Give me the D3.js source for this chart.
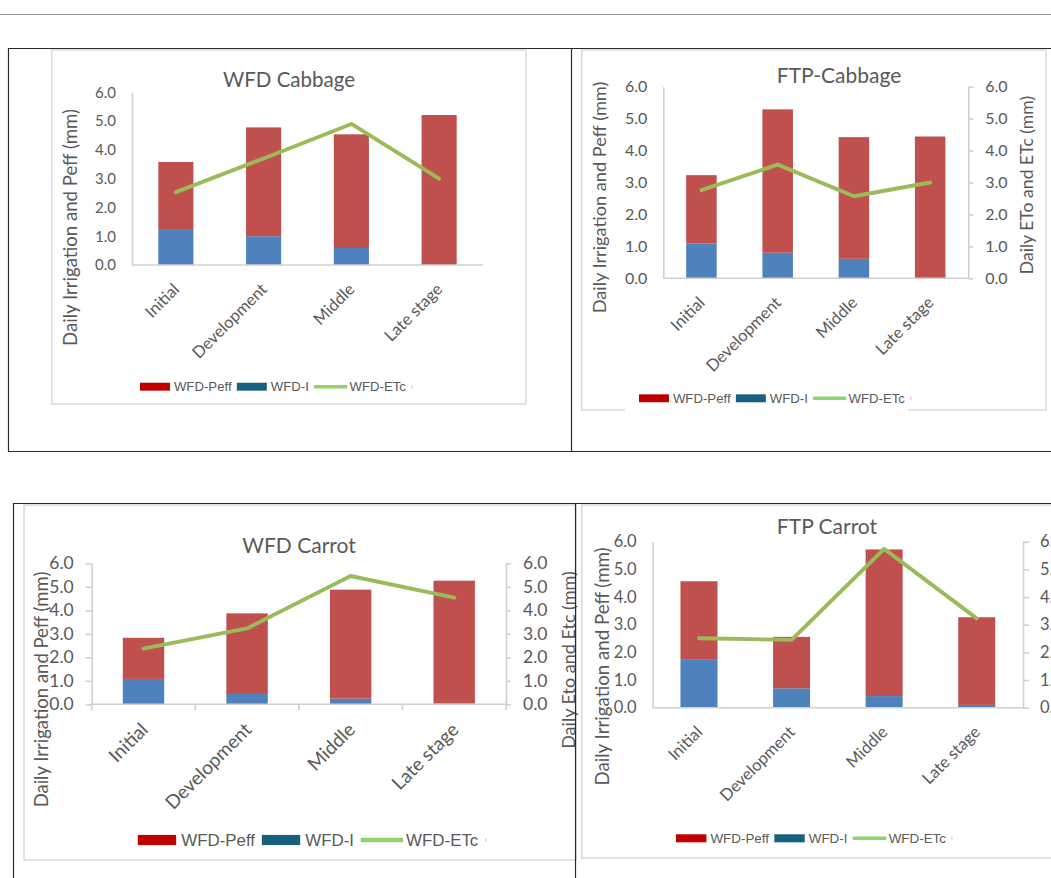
<!DOCTYPE html>
<html>
<head>
<meta charset="utf-8">
<script src="https://cdn.jsdelivr.net/npm/d3@7/dist/d3.min.js"></script>
<style>
  html, body { margin: 0; padding: 0; background: #fff; }
  svg { display: block; }
</style>
</head>
<body>
<svg id="chart" width="1051" height="878"></svg>
<script>
// ---- data ----
const stages = ["Initial", "Development", "Middle", "Late stage"];
const yTickValues = [0, 1, 2, 3, 4, 5, 6];
const legendLabels = ["WFD-Peff", "WFD-I", "WFD-ETc"];

// WFD Cabbage (mm/day)
const wfdCabbageIrr  = [1.22, 1.00, 0.59, 0.00];
const wfdCabbagePeff = [2.36, 3.78, 3.95, 5.21];
const wfdCabbageEtc  = [2.53, 3.70, 4.90, 3.00];

// FTP Cabbage
const ftpCabbageIrr  = [1.09, 0.80, 0.61, 0.00];
const ftpCabbagePeff = [2.14, 4.49, 3.81, 4.44];
const ftpCabbageEtc  = [2.76, 3.56, 2.57, 3.00];

// WFD Carrot
const wfdCarrotIrr  = [1.08, 0.44, 0.24, 0.04];
const wfdCarrotPeff = [1.75, 3.43, 4.64, 5.22];
const wfdCarrotEtc  = [2.37, 3.23, 5.46, 4.54];

// FTP Carrot
const ftpCarrotIrr  = [1.73, 0.70, 0.42, 0.10];
const ftpCarrotPeff = [2.84, 1.86, 5.30, 3.17];
const ftpCarrotEtc  = [2.51, 2.45, 5.74, 3.23];

// ---- styles ----
const COL_PEFF = "#C0504D", COL_IRR = "#4F81BD", COL_ETC = "#9BBB59";
const LEG_PEFF = "#C00000", LEG_IRR = "#17607F", LEG_ETC = "#8ED36B";
const TEXT = "#595959", AXIS = "#D0D0D0", FRAME = "#2a2a2a";
const CHART_FONT = "Lato, 'Open Sans', sans-serif";
const LEGEND_FONT = "'Liberation Sans', Arial, sans-serif";

const svg = d3.select("#chart");

// page rule
svg.append("line").attr("x1", 0).attr("x2", 1051).attr("y1", 14.5).attr("y2", 14.5)
  .attr("stroke", "#9a9a9a").attr("stroke-width", 1);

const panels = [
  {
    title: "WFD Cabbage", irr: wfdCabbageIrr, peff: wfdCabbagePeff, etc: wfdCabbageEtc,
    border: [51.7, 50, 526, 404],
    titleX: 289, titleY: 80, titleSize: 20.5,
    x0: 132, x1: 483, y0: 265, y1: 92.3,
    tickSize: 15, leftTick: 0, xTicks: false, right: null,
    leftTitle: "Daily Irrigation and Peff (mm)", leftTitleX: 70.5, leftTitleY: 227.5, axisTitleSize: 18.6,
    xLabelSize: 16.5,
    legend: { x: 140, y: 386.7, size: 13.2 }
  },
  {
    title: "FTP-Cabbage", irr: ftpCabbageIrr, peff: ftpCabbagePeff, etc: ftpCabbageEtc,
    border: [581.7, 50, 1046, 410],
    titleX: 839, titleY: 76, titleSize: 21,
    x0: 663.3, x1: 968.3, y0: 278.3, y1: 86.7,
    tickSize: 16, leftTick: 0, xTicks: false,
    right: { tick: 5, title: "Daily ETo and ETc (mm)", titleX: 1027, titleY: 185, size: 17.6 },
    leftTitle: "Daily Irrigation and Peff (mm)", leftTitleX: 600, leftTitleY: 197.5, axisTitleSize: 18.2,
    xLabelSize: 16.5,
    legend: { x: 639, y: 398.3, size: 13.2, backdrop: [625, 386, 283, 27] }
  },
  {
    title: "WFD Carrot", irr: wfdCarrotIrr, peff: wfdCarrotPeff, etc: wfdCarrotEtc,
    border: [24, 505, 576, 860],
    titleX: 299, titleY: 545.7, titleSize: 21,
    x0: 91.7, x1: 506, y0: 704.3, y1: 563.3,
    tickSize: 17.5, leftTick: 6, xTicks: true,
    right: { tick: 5, title: "Daily Eto and Etc (mm)", titleX: 568.5, titleY: 660, size: 18 },
    leftTitle: "Daily Irrigation and Peff (mm)", leftTitleX: 42, leftTitleY: 689.5, axisTitleSize: 18.5,
    xLabelSize: 19,
    legend: { x: 137.8, y: 840, size: 16.9 }
  },
  {
    title: "FTP Carrot", irr: ftpCarrotIrr, peff: ftpCarrotPeff, etc: ftpCarrotEtc,
    border: [581.7, 505, 1060, 858],
    titleX: 827, titleY: 526.7, titleSize: 21,
    x0: 652.7, x1: 1023, y0: 707.7, y1: 541.7,
    tickSize: 16.5, leftTick: 0, xTicks: false,
    right: { tick: 6 },
    leftTitle: "Daily Irrigation and Peff (mm)", leftTitleX: 602, leftTitleY: 666.5, axisTitleSize: 18.7,
    xLabelSize: 16.5,
    legend: { x: 676, y: 838.3, size: 13.4 }
  }
];

function styleAxis(sel, size) {
  sel.select(".domain").attr("stroke", AXIS).attr("stroke-width", 1.6);
  sel.selectAll(".tick line").attr("stroke", AXIS).attr("stroke-width", 1.6);
  sel.selectAll(".tick text").attr("fill", TEXT).attr("font-family", CHART_FONT)
    .attr("font-size", size);
}

function drawLegend(g, L) {
  const lg = g.append("g");
  if (L.backdrop) {
    lg.append("rect").attr("x", L.backdrop[0]).attr("y", L.backdrop[1])
      .attr("width", L.backdrop[2]).attr("height", L.backdrop[3]).attr("fill", "#fff");
  }
  const s = L.size;
  const items = [
    { kind: "rect", color: LEG_PEFF, label: legendLabels[0] },
    { kind: "rect", color: LEG_IRR, label: legendLabels[1] },
    { kind: "line", color: LEG_ETC, label: legendLabels[2] }
  ];
  let cur = L.x;
  items.forEach(it => {
    if (it.kind === "rect") {
      const w = 2.27 * s, h = 0.6 * s;
      lg.append("rect").attr("x", cur).attr("y", L.y - h / 2).attr("width", w).attr("height", h)
        .attr("fill", it.color);
      cur += w + 0.3 * s;
    } else {
      const w = 2.5 * s;
      lg.append("line").attr("x1", cur).attr("x2", cur + w).attr("y1", L.y).attr("y2", L.y)
        .attr("stroke", it.color).attr("stroke-width", 0.27 * s);
      cur += w + 0.18 * s;
    }
    const t = lg.append("text").attr("x", cur).attr("y", L.y).attr("dy", "0.36em")
      .attr("font-family", LEGEND_FONT).attr("font-size", s).attr("fill", TEXT).text(it.label);
    cur += t.node().getComputedTextLength() + 0.4 * s;
  });
  lg.append("rect").attr("x", cur).attr("y", L.y - 1.5).attr("width", 1.2).attr("height", 3)
    .attr("fill", "#F2B8D3");
}

function drawPanel(p) {
  const g = svg.append("g");
  const b = p.border;
  g.append("rect").attr("x", b[0]).attr("y", b[1]).attr("width", b[2] - b[0]).attr("height", b[3] - b[1])
    .attr("fill", "none").attr("stroke", "#D9D9D9").attr("stroke-width", 1.5);

  g.append("text").attr("x", p.titleX).attr("y", p.titleY).attr("dy", "0.35em")
    .attr("text-anchor", "middle").attr("font-family", CHART_FONT).attr("font-size", p.titleSize)
    .attr("fill", TEXT).text(p.title);

  const x = d3.scaleBand().domain(stages).range([p.x0, p.x1]).paddingInner(0.6).paddingOuter(0.3);
  const y = d3.scaleLinear().domain([0, 6]).range([p.y0, p.y1]);

  const rows = stages.map((s, i) => ({ stage: s, irr: p.irr[i], peff: p.peff[i], etc: p.etc[i] }));
  const stacked = d3.stack().keys(["irr", "peff"])(rows);
  const colors = { irr: COL_IRR, peff: COL_PEFF };

  // y axis (left)
  const ya = g.append("g").attr("transform", `translate(${p.x0},0)`)
    .call(d3.axisLeft(y).tickValues(yTickValues).tickFormat(d3.format(".1f"))
      .tickSize(p.leftTick).tickSizeOuter(0).tickPadding(p.leftTick ? 12 : 16));
  styleAxis(ya, p.tickSize);
  if (!p.leftTick) ya.selectAll(".tick line").remove();

  // y axis (right) sharing the same 0-6 range
  if (p.right) {
    const ra = g.append("g").attr("transform", `translate(${p.x1},0)`)
      .call(d3.axisRight(y).tickValues(yTickValues).tickFormat(d3.format(".1f"))
        .tickSize(p.right.tick).tickSizeOuter(0).tickPadding(17 - p.right.tick));
    styleAxis(ra, p.tickSize);
    if (p.right.title) {
      g.append("text")
        .attr("transform", `translate(${p.right.titleX},${p.right.titleY}) rotate(-90)`)
        .attr("dy", "0.35em").attr("text-anchor", "middle")
        .attr("font-family", CHART_FONT).attr("font-size", p.right.size).attr("fill", TEXT)
        .text(p.right.title);
    }
  }

  // stacked bars
  g.append("g").selectAll("g").data(stacked).join("g").attr("fill", d => colors[d.key])
    .selectAll("rect").data(d => d).join("rect")
    .attr("x", d => x(d.data.stage))
    .attr("width", x.bandwidth())
    .attr("y", d => y(d[1]))
    .attr("height", d => y(d[0]) - y(d[1]));

  // x axis baseline
  g.append("line").attr("x1", p.x0).attr("x2", p.x1).attr("y1", p.y0).attr("y2", p.y0)
    .attr("stroke", AXIS).attr("stroke-width", 1.6);
  if (p.xTicks) {
    const edges = stages.map(s => x(s) - (x.step() - x.bandwidth()) / 2).concat([p.x1]);
    g.selectAll(".xtick").data(edges).join("line").attr("class", "xtick")
      .attr("x1", d => d).attr("x2", d => d).attr("y1", p.y0).attr("y2", p.y0 + 6)
      .attr("stroke", AXIS).attr("stroke-width", 1.6);
  }

  // rotated category labels
  g.selectAll(".xlab").data(stages).join("text").attr("class", "xlab")
    .attr("transform", d => `translate(${x(d) + x.bandwidth() / 2 - 4},${p.y0 + 17}) rotate(-45)`)
    .attr("dy", "0.72em").attr("text-anchor", "end")
    .attr("font-family", CHART_FONT).attr("font-size", p.xLabelSize).attr("fill", TEXT)
    .text(d => d);

  // ETc line
  const line = d3.line().x(d => x(d.stage) + x.bandwidth() / 2).y(d => y(d.etc));
  g.append("path").datum(rows).attr("d", line).attr("fill", "none")
    .attr("stroke", COL_ETC).attr("stroke-width", 3.9)
    .attr("stroke-linejoin", "round").attr("stroke-linecap", "round");

  // left axis title
  g.append("text")
    .attr("transform", `translate(${p.leftTitleX},${p.leftTitleY}) rotate(-90)`)
    .attr("dy", "0.35em").attr("text-anchor", "middle")
    .attr("font-family", CHART_FONT).attr("font-size", p.axisTitleSize).attr("fill", TEXT)
    .text(p.leftTitle);

  drawLegend(g, p.legend);
}

panels.forEach(drawPanel);

// black frames around the figure cells
const frames = svg.append("g").attr("stroke", FRAME).attr("stroke-width", 1.2).attr("fill", "none");
[
  [8, 48.5, 1051, 48.5], [8, 451.5, 1051, 451.5], [8.5, 48, 8.5, 452], [571.5, 48, 571.5, 452],
  [13, 503.5, 1051, 503.5], [13.5, 503, 13.5, 878], [575.5, 503, 575.5, 878]
].forEach(l => frames.append("line").attr("x1", l[0]).attr("y1", l[1]).attr("x2", l[2]).attr("y2", l[3]));
</script>
</body>
</html>
